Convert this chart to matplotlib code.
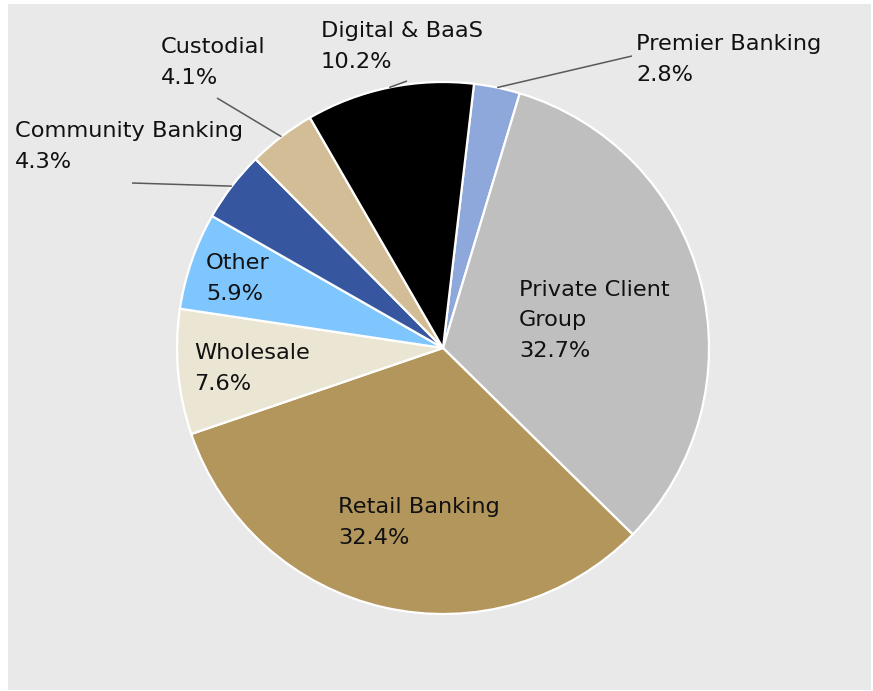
import matplotlib.pyplot as plt
import numpy as np
from matplotlib.patches import Rectangle

plt.rcParams['font.family'] = ['DejaVu Sans']

segments = ['Premier Banking', 'Private Client Group', 'Retail Banking', 'Wholesale',
            'Other', 'Community Banking', 'Custodial', 'Digital & BaaS']
shares = [2.8, 32.7, 32.4, 7.6, 5.9, 4.3, 4.1, 10.2]
label_text = ['Premier Banking', 'Private Client\nGroup', 'Retail Banking', 'Wholesale',
              'Other', 'Community Banking', 'Custodial', 'Digital & BaaS']
colors = ['#8fa8db', '#bfbfbf', '#b3965b', '#ebe6d4',
          '#7fc6ff', '#36579f', '#d2bd97', '#000000']

# layout in pixels (873 x 691 canvas)
W, H = 873, 691
CX, CY, R = 443, 348, 266

# left edge / baseline of the last line of every label
label_pos = [(636, 81), (519, 357), (338, 544), (194, 390),
             (206, 300), (15, 168), (161, 84), (321, 68)]
# outer end of leader lines (None = label sits inside the slice)
leader_end = [(632, 56), None, None, None, None, (132, 183), (217, 98), (407, 81)]


def px(x, y):
    return (x - CX) / R, (CY - y) / R


fig = plt.figure(figsize=(W / 100, H / 100), dpi=100)
fig.patch.set_facecolor('white')
fig.patches.append(Rectangle((8 / W, 1 / H), 863 / W, 686 / H, transform=fig.transFigure,
                             facecolor='#e9e9e9', edgecolor='none', zorder=-1))

ax = fig.add_axes([0, 0, 1, 1])
ax.set_facecolor('none')
ax.set_zorder(1)

wedges, _ = ax.pie(shares, colors=colors, startangle=83.3, counterclock=False, radius=1,
                   wedgeprops=dict(edgecolor='white', linewidth=1.6))

for w, name, txt, pos, end in zip(wedges, segments, label_text, label_pos, leader_end):
    pct = shares[segments.index(name)]
    ax.text(*px(*pos), f'{txt}\n{pct:.1f}%', ha='left', va='baseline', fontsize=16.2,
            color='#111111', linespacing=1.66)
    if end is not None:
        mid = np.deg2rad((w.theta1 + w.theta2) / 2)
        ax.plot([np.cos(mid), px(*end)[0]], [np.sin(mid), px(*end)[1]],
                color='#595959', lw=1.1, solid_capstyle='butt')

ax.set_xlim(-CX / R, (W - CX) / R)
ax.set_ylim(-(H - CY) / R, CY / R)
ax.set_aspect('equal', adjustable='datalim')
ax.axis('off')

fig.savefig('out.png', dpi=100)
